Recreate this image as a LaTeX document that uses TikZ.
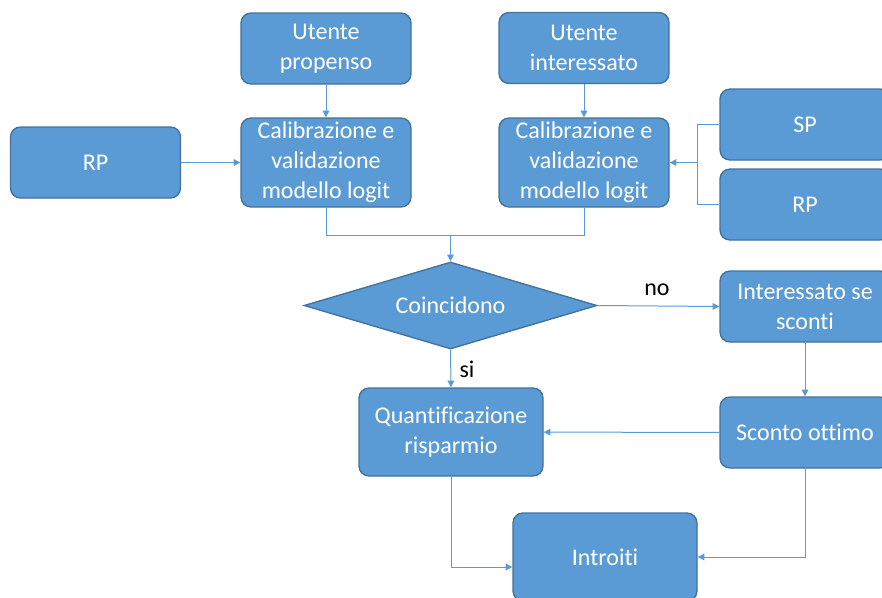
\documentclass[tikz,border=0pt]{standalone}
\usepackage{fontspec}
\setmainfont{Carlito}[Ligatures=NoCommon]
\usetikzlibrary{shapes.geometric,arrows.meta}
\definecolor{boxfill}{HTML}{5B9BD5}
\definecolor{boxline}{HTML}{41719C}
\definecolor{conn}{HTML}{5B9BD5}
\tikzset{
  blk/.style={draw=boxline, line width=1pt, fill=boxfill, rounded corners=7.5pt,
    text=white, align=center, font=\fontsize{18}{22.5}\selectfont,
    minimum width=127.5pt, minimum height=53.25pt, inner sep=2pt},
  dec/.style={draw=boxline, line width=1pt, fill=boxfill, diamond, aspect=3.37, text=white,
    font=\fontsize{18}{22.5}\selectfont, minimum width=219.75pt, minimum height=65.25pt, inner sep=0pt},
  link/.style={draw=conn, line width=0.75pt, -{Triangle[length=5pt,width=5pt]}},
  plain/.style={draw=conn, line width=0.75pt},
  lbl/.style={font=\fontsize{18}{22.5}\selectfont}
}
\begin{document}
\begin{tikzpicture}[x=0.75pt,y=0.75pt,yscale=-1,xscale=1]
		\useasboundingbox (0,0) rectangle (882,597);
		
		%Shape: Rectangle
		\node[blk] (utP) at (326,48.5) {Utente\\propenso};
		%Shape: Rectangle
		\node[blk] (utI) at (584,48) {Utente\\interessato};
		%Shape: Rectangle
		\node[blk] (rpL) at (95.5,162.5) {RP};
		%Shape: Rectangle
		\node[blk, minimum height=66.75pt] (calL) at (326,162.5) {Calibrazione e\\validazione\\modello logit};
		%Shape: Rectangle
		\node[blk, minimum height=66.75pt] (calR) at (584,162.5) {Calibrazione e\\validazione\\modello logit};
		%Shape: Rectangle
		\node[blk] (sp) at (805,124.5) {SP};
		%Shape: Rectangle
		\node[blk] (rpR) at (805,204.5) {RP};
		%Shape: Diamond
		\node[dec] (coinc) at (450.5,305.5) {Coincidono};
		%Shape: Rectangle
		\node[blk] (inter) at (805,306.5) {Interessato se\\sconti};
		%Shape: Rectangle
		\node[blk] (sconto) at (805,432.5) {Sconto ottimo};
		%Shape: Rectangle
		\node[blk, minimum width=138pt, minimum height=66pt] (quant) at (451,432) {Quantificazione\\risparmio};
		%Shape: Rectangle
		\node[blk, minimum width=138pt, minimum height=66pt] (intro) at (605,557) {Introiti};
		
		\coordinate (mrg) at (450.5,235);
		\coordinate (jn) at (697,162.5);
		
		%Straight Lines
		\draw[link] (utP) -- (calL);
		\draw[link] (utI) -- (calR);
		\draw[link] (rpL) -- (calL);
		%Elbow Lines
		\draw[plain] (sp.west) -| (jn);
		\draw[plain] (rpR.west) -| (jn);
		\draw[link] (jn) -- (calR.east);
		\draw[plain] (calL.south) |- (mrg);
		\draw[plain] (calR.south) |- (mrg);
		\draw[link] (mrg) -- (coinc.north);
		%Straight Lines
		\draw[link] (coinc.east) -- (inter.west);
		\draw[link] (coinc.south) -- (quant.north);
		\draw[link] (inter) -- (sconto);
		\draw[link] (sconto) -- (quant);
		%Elbow Lines
		\draw[link] (quant.south) |- ([yshift=7.5pt]intro.west);
		\draw[link] (sconto.south) |- (intro.east);
		
		% Text Node
		\node[lbl] (no) at (657,290) {no};
		% Text Node
		\node[lbl] (si) at (467,369) {si};
		
\end{tikzpicture}
\end{document}
